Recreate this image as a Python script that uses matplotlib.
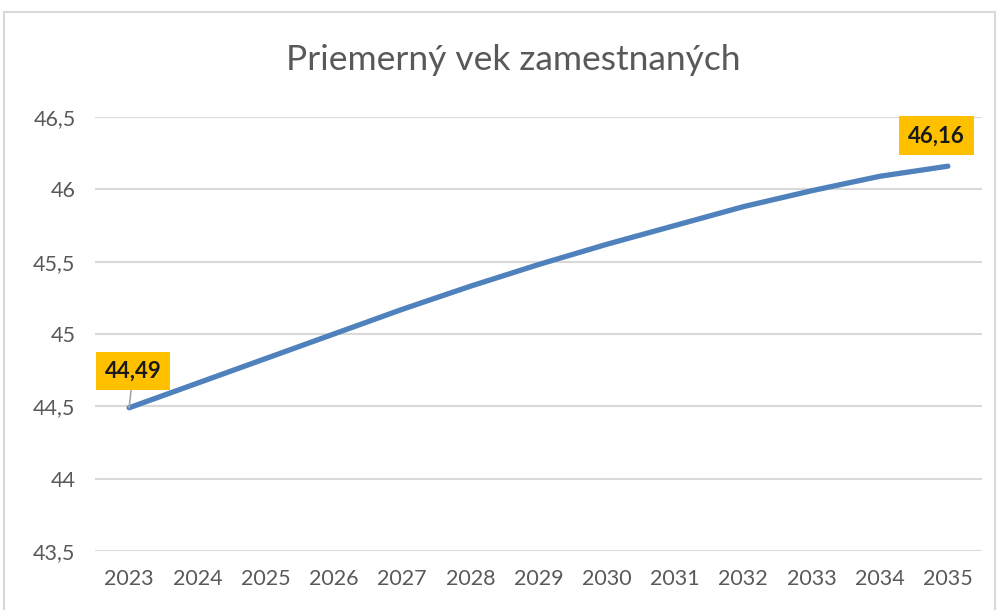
import matplotlib
matplotlib.use("Agg")
import matplotlib.pyplot as plt
from matplotlib.patches import Rectangle

years = ["2023", "2024", "2025", "2026", "2027", "2028", "2029",
         "2030", "2031", "2032", "2033", "2034", "2035"]
avg_age = [44.49, 44.66, 44.83, 45.00, 45.17, 45.33, 45.48,
           45.62, 45.75, 45.88, 45.99, 46.09, 46.16]
y_ticks = [43.5, 44.0, 44.5, 45.0, 45.5, 46.0, 46.5]
y_tick_labels = ["43,5", "44", "44,5", "45", "45,5", "46", "46,5"]
title = "Priemerný vek zamestnaných"

plt.rcParams['font.family'] = ['Lato', 'DejaVu Sans']

fig = plt.figure(figsize=(9.98, 6.10), dpi=100)
fig.patch.set_facecolor("white")
# outer chart border
fig.patches.append(Rectangle((4/998, -0.05), 991/998, 1 - 12/610 + 0.05,
                             transform=fig.transFigure, fill=False,
                             edgecolor="#D9D9D9", linewidth=1.5))

ax = fig.add_axes([95/998, 1 - 551/610, 887/998, (551 - 117)/610])
x = list(range(len(years)))
ax.plot(x, avg_age, color="#4F81BD", linewidth=3.8, solid_capstyle="round", zorder=3)

ax.set_xlim(-0.5, len(years) - 0.5)
ax.set_ylim(43.5, 46.5)
ax.set_yticks(y_ticks)
ax.set_yticklabels(y_tick_labels)
ax.set_xticks(x)
ax.set_xticklabels(years)
ax.grid(axis="y", color="#D9D9D9", linewidth=1.5)
ax.set_axisbelow(True)
for s in ax.spines.values():
    s.set_visible(False)
ax.tick_params(axis="both", length=0, labelsize=15.5, labelcolor="#595959")
ax.tick_params(axis="y", pad=14)
ax.tick_params(axis="x", pad=13)

fig.text(513/998, 1 - 60/610, title, ha="center", va="center",
         fontsize=25.5, color="#595959")

box = dict(boxstyle="square,pad=0.4", facecolor="#FFC000", edgecolor="none")
ax.annotate(f"{avg_age[0]:.2f}".replace(".", ","), xy=(x[0], avg_age[0]),
            xytext=(x[0] + 0.06, avg_age[0] + 0.255), ha="center", va="center",
            fontsize=16, fontweight="bold", color="#1a1a1a", bbox=box,
            arrowprops=dict(arrowstyle="-", color="#A6A6A6", lw=1.2,
                            shrinkA=0, shrinkB=0), zorder=4)
ax.annotate(f"{avg_age[-1]:.2f}".replace(".", ","), xy=(x[-1], avg_age[-1]),
            xytext=(x[-1] - 0.17, avg_age[-1] + 0.21), ha="center", va="center",
            fontsize=16, fontweight="bold", color="#1a1a1a", bbox=box, zorder=4)

fig.savefig("out.png", dpi=100)
